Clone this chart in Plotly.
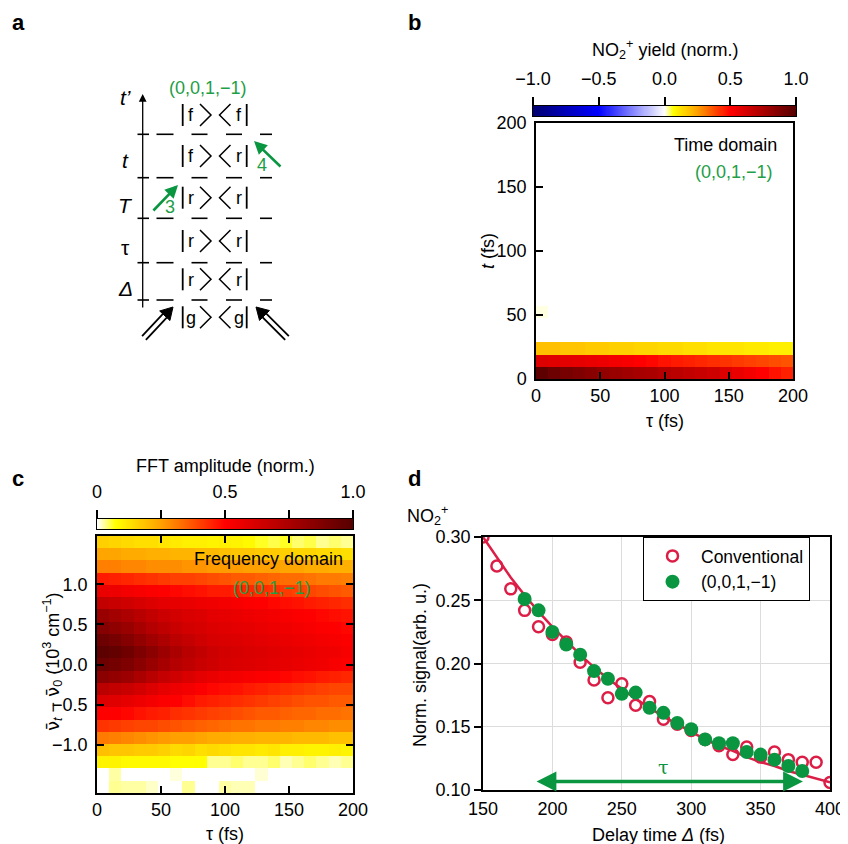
import numpy as np
import plotly.graph_objects as go

# the page body has an 8 px margin; the figure is laid out in window pixels
OFF = 8
W, H = 848 - OFF, 844 - OFF
FONT = "Liberation Sans, Arial, Helvetica, sans-serif"
GREEN_TXT = "#1e9e46"
GREEN = "#0a9640"
RED = "#dc1e46"
FS = 18

# ---------------- data ----------------
# panel b : NO2+ yield map (time domain), 21 x 21 bins of 200/21 fs
tau_centers = [4.76, 14.29, 23.81, 33.33, 42.86, 52.38, 61.90, 71.43, 80.95, 90.48, 100.0,
               109.52, 119.05, 128.57, 138.10, 147.62, 157.14, 166.67, 176.19, 185.71, 195.24]
t_centers = [4.76, 14.29, 23.81, 33.33, 42.86, 52.38, 61.90, 71.43, 80.95, 90.48, 100.0,
             109.52, 119.05, 128.57, 138.10, 147.62, 157.14, 166.67, 176.19, 185.71, 195.24]
b_row_t0 = [0.97, 0.93, 0.90, 0.88, 0.85, 0.82, 0.80, 0.78, 0.76, 0.75, 0.72, 0.70, 0.68, 0.66, 0.64,
            0.60, 0.56, 0.53, 0.50, 0.47, 0.45]
b_row_t1 = [0.60, 0.59, 0.58, 0.57, 0.56, 0.55, 0.53, 0.52, 0.50, 0.49, 0.47, 0.46, 0.45, 0.44, 0.43,
            0.42, 0.41, 0.40, 0.39, 0.38, 0.37]
b_row_t2 = [0.19, 0.19, 0.18, 0.18, 0.17, 0.17, 0.16, 0.16, 0.15, 0.15, 0.14, 0.14, 0.13, 0.13, 0.12,
            0.12, 0.12, 0.11, 0.11, 0.10, 0.10]
b_row_t5 = [0.008, 0, 0, 0, 0, 0, 0, 0, 0, 0, 0, 0, 0, 0, 0, 0, 0, 0, 0, 0, 0]
b_row_empty = [0.0] * 21
b_cbar_ticks = [-1.0, -0.5, 0.0, 0.5, 1.0]
b_cbar_labels = ["−1.0", "−0.5", "0.0", "0.5", "1.0"]

# panel c : FFT amplitude map (frequency domain), rows listed from top (+1.52) to bottom (-1.52)
nu_centers_top_down = [1.524, 1.371, 1.219, 1.067, 0.914, 0.762, 0.610, 0.457, 0.305, 0.152, 0.0,
                       -0.152, -0.305, -0.457, -0.610, -0.762, -0.914, -1.067, -1.219, -1.371, -1.524]
c_rows_top_down = [
    [0.16, 0.15, 0.14, 0.13, 0.13, 0.12, 0.11, 0.10, 0.10, 0.09, 0.10, 0.09, 0.08, 0.06, 0.05, 0.06, 0.04, 0.05, 0.03, 0.04, 0.03],
    [0.24, 0.24, 0.23, 0.23, 0.22, 0.22, 0.21, 0.21, 0.20, 0.20, 0.19, 0.18, 0.18, 0.17, 0.17, 0.16, 0.15, 0.15, 0.14, 0.14, 0.13],
    [0.30, 0.30, 0.29, 0.29, 0.28, 0.28, 0.28, 0.27, 0.27, 0.26, 0.26, 0.26, 0.25, 0.25, 0.25, 0.24, 0.24, 0.23, 0.23, 0.22, 0.22],
    [0.46, 0.45, 0.44, 0.43, 0.42, 0.41, 0.40, 0.40, 0.39, 0.38, 0.37, 0.36, 0.36, 0.35, 0.34, 0.33, 0.33, 0.32, 0.31, 0.31, 0.30],
    [0.56, 0.55, 0.53, 0.52, 0.51, 0.50, 0.49, 0.48, 0.47, 0.46, 0.46, 0.45, 0.44, 0.43, 0.42, 0.41, 0.40, 0.39, 0.38, 0.37, 0.36],
    [0.68, 0.66, 0.64, 0.62, 0.60, 0.58, 0.57, 0.56, 0.55, 0.54, 0.53, 0.52, 0.51, 0.50, 0.49, 0.48, 0.47, 0.46, 0.45, 0.44, 0.43],
    [0.80, 0.77, 0.74, 0.71, 0.68, 0.65, 0.63, 0.61, 0.60, 0.58, 0.57, 0.56, 0.55, 0.54, 0.53, 0.52, 0.51, 0.50, 0.49, 0.48, 0.47],
    [0.86, 0.83, 0.80, 0.76, 0.72, 0.69, 0.66, 0.63, 0.62, 0.60, 0.59, 0.58, 0.57, 0.56, 0.55, 0.54, 0.53, 0.52, 0.51, 0.50, 0.49],
    [0.93, 0.90, 0.86, 0.82, 0.78, 0.74, 0.70, 0.67, 0.64, 0.62, 0.61, 0.60, 0.59, 0.58, 0.57, 0.56, 0.55, 0.54, 0.53, 0.52, 0.51],
    [0.98, 0.96, 0.92, 0.88, 0.84, 0.79, 0.75, 0.71, 0.68, 0.65, 0.63, 0.62, 0.61, 0.60, 0.59, 0.58, 0.57, 0.56, 0.55, 0.54, 0.52],
    [0.93, 0.91, 0.88, 0.84, 0.80, 0.76, 0.72, 0.69, 0.66, 0.64, 0.62, 0.61, 0.60, 0.59, 0.58, 0.57, 0.56, 0.55, 0.54, 0.52, 0.51],
    [0.84, 0.82, 0.79, 0.75, 0.71, 0.67, 0.64, 0.61, 0.58, 0.56, 0.54, 0.53, 0.52, 0.51, 0.50, 0.49, 0.48, 0.47, 0.46, 0.45, 0.44],
    [0.70, 0.68, 0.66, 0.63, 0.60, 0.57, 0.55, 0.53, 0.51, 0.49, 0.48, 0.47, 0.46, 0.45, 0.44, 0.43, 0.42, 0.41, 0.40, 0.39, 0.39],
    [0.60, 0.59, 0.57, 0.55, 0.53, 0.51, 0.50, 0.48, 0.46, 0.45, 0.44, 0.43, 0.42, 0.41, 0.40, 0.39, 0.38, 0.37, 0.37, 0.36, 0.36],
    [0.50, 0.50, 0.49, 0.47, 0.46, 0.45, 0.43, 0.42, 0.41, 0.40, 0.39, 0.38, 0.37, 0.36, 0.36, 0.35, 0.34, 0.34, 0.33, 0.33, 0.32],
    [0.42, 0.41, 0.40, 0.39, 0.39, 0.38, 0.37, 0.36, 0.35, 0.34, 0.33, 0.32, 0.32, 0.31, 0.31, 0.30, 0.30, 0.29, 0.29, 0.28, 0.28],
    [0.31, 0.30, 0.29, 0.28, 0.27, 0.26, 0.25, 0.25, 0.24, 0.23, 0.23, 0.22, 0.22, 0.21, 0.21, 0.21, 0.20, 0.20, 0.20, 0.19, 0.19],
    [0.19, 0.18, 0.18, 0.17, 0.17, 0.16, 0.14, 0.15, 0.13, 0.14, 0.13, 0.12, 0.12, 0.11, 0.12, 0.10, 0.10, 0.09, 0.09, 0.10, 0.09],
    [0.09, 0.09, 0.08, 0.08, 0.08, 0.08, 0.07, 0.07, 0.07, 0.03, 0.03, 0.04, 0.03, 0.03, 0.04, 0.02, 0.03, 0.04, 0.03, 0.02, 0.03],
    [0.0, 0.025, 0.0, 0.0, 0.0, 0.0, 0.01, 0.0, 0.0, 0.0, 0.0, 0.0, 0.0, 0.012, 0.0, 0.0, 0.0, 0.0, 0.0, 0.0, 0.0],
    [0.0, 0.03, 0.025, 0.025, 0.015, 0.0, 0.0, 0.03, 0.0, 0.0, 0.025, 0.02, 0.02, 0.0, 0.0, 0.0, 0.0, 0.0, 0.0, 0.0, 0.0],
]
c_cbar_ticks = [0.0, 0.25, 0.5, 0.75, 1.0]
c_cbar_labels = ["0", " ", "0.5", " ", "1.0"]

# panel d : normalised NO2+ signal vs delay time
delay_conv = [150, 160, 170, 180, 190, 200, 210, 220, 230, 240, 250, 260, 270, 280, 290, 300,
              310, 320, 330, 340, 350, 360, 370, 380, 390, 400]
signal_conv = [0.300, 0.277, 0.259, 0.242, 0.229, 0.223, 0.217, 0.201, 0.187, 0.173, 0.184, 0.167,
               0.170, 0.156, 0.152, 0.147, 0.140, 0.135, 0.128, 0.134, 0.126, 0.130, 0.124, 0.122,
               0.122, 0.106]
delay_0011 = [180, 190, 200, 210, 220, 230, 240, 250, 260, 270, 280, 290, 300, 310, 320, 330,
              340, 350, 360, 370, 380]
signal_0011 = [0.251, 0.242, 0.225, 0.215, 0.207, 0.194, 0.188, 0.176, 0.177, 0.165, 0.161, 0.153,
               0.148, 0.140, 0.137, 0.137, 0.130, 0.128, 0.124, 0.119, 0.115]
delay_fit = [150, 160, 170, 180, 190, 200, 210, 220, 230, 240, 250, 260, 270, 280, 290, 300,
             310, 320, 330, 340, 350, 360, 370, 380, 390, 400]
signal_fit = [0.300, 0.284, 0.268, 0.254, 0.241, 0.229, 0.218, 0.207, 0.197, 0.188, 0.180, 0.172,
              0.165, 0.158, 0.152, 0.146, 0.140, 0.135, 0.131, 0.126, 0.122, 0.119, 0.115, 0.112,
              0.109, 0.106]
tau_arrow_span = [187.5, 380.5]
tau_arrow_level = 0.1067

# ---------------- helpers (window pixels -> paper) ----------------
def px(x):
    return (x - OFF) / W


def py(y):
    return 1 - (y - OFF) / H


shapes, ann = [], []


def text(x, y, s, size=FS, color="black", xanchor="center", yanchor="middle", bold=False,
         family=FONT, angle=0):
    if bold:
        s = "<b>" + s + "</b>"
    ann.append(dict(x=px(x), y=py(y), xref="paper", yref="paper", text=s, showarrow=False,
                    xanchor=xanchor, yanchor=yanchor, textangle=angle,
                    font=dict(size=size, color=color, family=family)))


def pline(x0, y0, x1, y1, width=1.6, color="black"):
    shapes.append(dict(type="line", xref="paper", yref="paper", x0=px(x0), y0=py(y0),
                       x1=px(x1), y1=py(y1), line=dict(color=color, width=width)))


def ppath(points, width=1.6, color="black", fill=None, closed=False):
    d = "M " + " L ".join(f"{px(a):.5f},{py(b):.5f}" for a, b in points)
    if closed:
        d += " Z"
    sh = dict(type="path", xref="paper", yref="paper", path=d, line=dict(color=color, width=width))
    if fill:
        sh["fillcolor"] = fill
    shapes.append(sh)


def arrow(tip, tail, color, width, size=1.0, head=2):
    ann.append(dict(x=px(tip[0]), y=py(tip[1]), xref="paper", yref="paper",
                    ax=tail[0] - tip[0], ay=tail[1] - tip[1], text="", showarrow=True,
                    arrowhead=head, arrowsize=size, arrowwidth=width, arrowcolor=color))


def double_arrow(tail, tip):
    T = np.array(tail, float)
    P = np.array(tip, float)
    u = (P - T) / np.linalg.norm(P - T)
    n = np.array([-u[1], u[0]])
    B = P - 12 * u
    for s in (-1, 1):
        a = T + s * 2.6 * n
        b = B + s * 2.6 * n
        pline(a[0], a[1], b[0], b[1], width=1.8)
    ppath([tuple(P), tuple(B + 7 * n), tuple(B - 7 * n)], width=1, fill="black", closed=True)


# ---------------- panel a (diagram) ----------------
arrow((142.7, 94), (142.7, 309), "black", 1.3, size=1.2)
for yl in [134.3, 177.7, 218.3, 262.7, 300.0]:
    for x0, x1 in [(137.5, 149), (156.5, 173.5), (191.5, 207.5), (226, 242), (260, 272)]:
        pline(x0, yl, x1, yl, width=1.6)
ket_rows = [(115, "f", "f"), (156, "f", "r"), (197.7, "r", "r"), (241, "r", "r"),
            (279.3, "r", "r"), (317.3, "g", "g")]
for yc, l1, l2 in ket_rows:
    pline(182.7, yc - 11, 182.7, yc + 11, width=1.8)
    pline(246.7, yc - 11, 246.7, yc + 11, width=1.8)
    ppath([(200, yc - 11), (211, yc), (200, yc + 11)], width=1.5)
    ppath([(230.5, yc - 11), (219.5, yc), (230.5, yc + 11)], width=1.5)
    text(190.8, yc + 0.5, l1, size=18)
    text(238.5, yc + 0.5, l2, size=18)
for yl, s in [(97, "<i>t’</i>"), (160, "<i>t</i>"), (205, "<i>T</i>"), (247, "τ"), (288, "<i>Δ</i>")]:
    text(125, yl, s, size=21)
text(208, 88, "(0,0,1,−1)", size=18, color=GREEN_TXT)
arrow((178, 185), (152, 212), GREEN, 2.6, size=1.0)
arrow((254, 141), (282, 168), GREEN, 2.6, size=1.0)
text(170, 207, "3", size=18, color=GREEN_TXT)
text(262, 165, "4", size=18, color=GREEN_TXT)
double_arrow((144, 338), (173, 307))
double_arrow((287, 338), (256, 307))

fig = go.Figure()

# ---------------- panel b ----------------
cs_b = [[0, "#000070"], [0.25, "#0000ff"], [0.5, "#ffffff"], [0.535, "#ffff00"],
        [0.625, "#ffa000"], [0.75, "#ff0000"], [1, "#550000"]]
zb = [b_row_t0, b_row_t1, b_row_t2, b_row_empty, b_row_empty, b_row_t5] + [b_row_empty] * 15
fig.add_trace(go.Heatmap(x=tau_centers, y=t_centers, z=zb, zmin=-1, zmax=1, colorscale=cs_b,
                         xaxis="x", yaxis="y", hoverinfo="skip", showscale=False))
# colour bar of panel b, drawn as a thin heatmap strip on its own axis
b_levels = np.linspace(-1, 1, 257)
fig.add_trace(go.Heatmap(x=b_levels, y=[0], z=[b_levels], zmin=-1, zmax=1, colorscale=cs_b,
                         xaxis="x4", yaxis="y4", hoverinfo="skip", showscale=False))
text(664.5, 50, "NO<sub>2</sub><sup>+</sup> yield (norm.)")
text(779, 145, "Time domain", xanchor="right")
text(734, 172, "(0,0,1,−1)", color=GREEN_TXT)
text(665, 421, "τ (fs)")
text(488, 251, "<i>t</i> (fs)", angle=-90)

# ---------------- panel c ----------------
cs_c = [[0, "#ffffff"], [0.07, "#ffff00"], [0.25, "#ffa000"], [0.5, "#ff0000"], [1, "#550000"]]
fig.add_trace(go.Heatmap(x=tau_centers, y=nu_centers_top_down[::-1], z=c_rows_top_down[::-1],
                         zmin=0, zmax=1, colorscale=cs_c, xaxis="x2", yaxis="y2",
                         hoverinfo="skip", showscale=False))
c_levels = np.linspace(0, 1, 257)
fig.add_trace(go.Heatmap(x=c_levels, y=[0], z=[c_levels], zmin=0, zmax=1, colorscale=cs_c,
                         xaxis="x5", yaxis="y5", hoverinfo="skip", showscale=False))
text(225, 466, "FFT amplitude (norm.)")
text(345, 559, "Frequency domain", xanchor="right")
text(272, 588, "(0,0,1,−1)", color=GREEN_TXT)
text(225, 834, "τ (fs)")
nu_bar = '<span style="font-family:DejaVu Sans">ν̄</span>'
text(52, 662, nu_bar + "<sub><i>t</i></sub> − " + nu_bar + "<sub>0</sub> (10<sup>3</sup> cm<sup>−1</sup>)",
     angle=-90)

# ---------------- panel d ----------------
fig.add_trace(go.Scatter(x=delay_fit, y=signal_fit, mode="lines", line=dict(color=RED, width=2.5),
                         xaxis="x3", yaxis="y3", showlegend=False, hoverinfo="skip"))
fig.add_trace(go.Scatter(x=delay_conv, y=signal_conv, mode="markers", name="Conventional",
                         marker=dict(symbol="circle-open", size=11, color=RED, line=dict(width=2.5, color=RED)),
                         xaxis="x3", yaxis="y3"))
fig.add_trace(go.Scatter(x=delay_0011, y=signal_0011, mode="markers", name="(0,0,1,−1)",
                         marker=dict(symbol="circle", size=14, color=GREEN),
                         xaxis="x3", yaxis="y3"))
ann.append(dict(x=tau_arrow_span[1], y=tau_arrow_level, ax=tau_arrow_span[0], ay=tau_arrow_level,
                xref="x3", yref="y3", axref="x3", ayref="y3", text="", showarrow=True,
                arrowhead=2, arrowside="end+start", arrowsize=1.2, arrowwidth=3.3, arrowcolor=GREEN))
ann.append(dict(x=280, y=0.118, xref="x3", yref="y3", text="τ", showarrow=False,
                font=dict(size=19, color=GREEN, family="DejaVu Serif")))
text(405, 515, "NO<sub>2</sub><sup>+</sup>", xanchor="left")
text(658, 835, "Delay time <i>Δ</i> (fs)")
text(420, 665, "Norm. signal(arb. u.)", angle=-90)

# panel labels
for x, y, s in [(18, 22, "a"), (414, 22, "b"), (18, 478, "c"), (414, 478, "d")]:
    text(x, y, s, size=22, bold=True)

axis_common = dict(showline=True, linecolor="black", linewidth=1.5, tickcolor="black",
                   tickfont=dict(size=FS, family=FONT, color="black"), zeroline=False,
                   showgrid=False)
cbar_x = dict(showline=True, linecolor="black", linewidth=1, mirror=True, side="top",
              ticks="outside", ticklen=8, tickwidth=1.5, tickcolor="black", ticklabelstandoff=5,
              tickfont=dict(size=FS, family=FONT, color="black"), showgrid=False, zeroline=False)
cbar_y = dict(showline=True, linecolor="black", linewidth=1, mirror=True, ticks="",
              showticklabels=False, range=[-0.5, 0.5], showgrid=False, zeroline=False)
grid = {"showgrid": True, "gridcolor": "#dcdcdc", "gridwidth": 1}

fig.update_layout(
    width=W, height=H, margin=dict(l=0, r=0, t=0, b=0, autoexpand=False),
    paper_bgcolor="white", plot_bgcolor="white",
    font=dict(family=FONT, size=FS, color="black"),
    xaxis=dict(domain=[px(536), px(793)], anchor="y", range=[0, 200], tickvals=[0, 50, 100, 150, 200],
               ticks="inside", ticklen=7, tickwidth=1.5, mirror=True, **axis_common),
    yaxis=dict(domain=[py(379), py(123)], anchor="x", range=[0, 200], tickvals=[0, 50, 100, 150, 200],
               ticks="inside", ticklen=7, tickwidth=1.5, mirror=True, ticklabelstandoff=4,
               **axis_common),
    xaxis2=dict(domain=[px(97), px(353)], anchor="y2", range=[0, 200], tickvals=[0, 50, 100, 150, 200],
                ticks="inside", ticklen=7, tickwidth=1.5, mirror="ticks", **axis_common),
    yaxis2=dict(domain=[py(793), py(536)], anchor="x2", range=[-1.6, 1.6],
                tickvals=[-1.0, -0.5, 0.0, 0.5, 1.0], tickformat=".1f", ticklabelstandoff=4,
                ticks="inside", ticklen=7, tickwidth=1.5, mirror="ticks", **axis_common),
    xaxis3=dict(domain=[px(483), px(830)], anchor="y3", range=[150, 400],
                tickvals=[150, 200, 250, 300, 350, 400], ticks="", mirror=True, ticklabelstandoff=2,
                **{**axis_common, **grid}),
    yaxis3=dict(domain=[py(790), py(537)], anchor="x3", range=[0.10, 0.30],
                tickvals=[0.10, 0.15, 0.20, 0.25, 0.30], tickformat=".2f",
                ticks="outside", ticklen=7, tickwidth=1.5, mirror=True,
                **{**axis_common, **grid}),
    xaxis4=dict(domain=[px(533), px(796)], anchor="y4", range=[-1, 1],
                tickvals=b_cbar_ticks, ticktext=b_cbar_labels, **cbar_x),
    yaxis4=dict(domain=[py(116), py(106)], anchor="x4", **cbar_y),
    xaxis5=dict(domain=[px(97), px(353)], anchor="y5", range=[0, 1],
                tickvals=c_cbar_ticks, ticktext=c_cbar_labels, **cbar_x),
    yaxis5=dict(domain=[py(529), py(519)], anchor="x5", **cbar_y),
    legend=dict(x=px(643), y=py(537), xanchor="left", yanchor="top", bgcolor="white",
                bordercolor="black", borderwidth=1, font=dict(size=17.5, family=FONT, color="black"),
                itemwidth=47, tracegroupgap=2),
    showlegend=True,
    shapes=shapes, annotations=ann,
)

fig.write_html("out.html")
